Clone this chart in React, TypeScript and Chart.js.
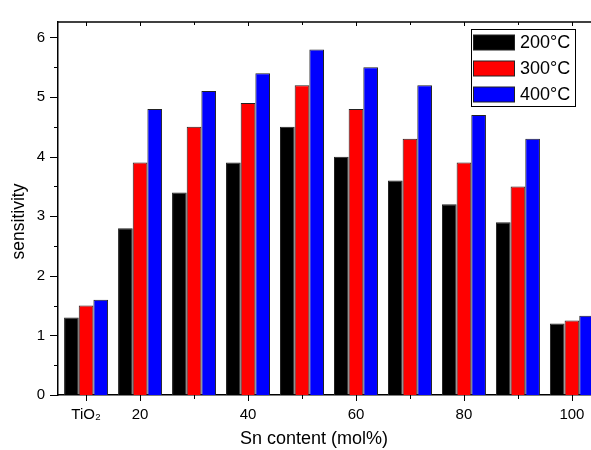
import React, { useEffect, useRef } from 'react';
import { Chart, registerables } from 'chart.js';

Chart.register(...registerables);

// ---- data ----
const snContent = [10, 20, 30, 40, 50, 60, 70, 80, 90, 100];
const xTickLabels = ['TiO₂', '20', '', '40', '', '60', '', '80', '', '100'];
const sens200 = [1.3, 2.8, 3.4, 3.9, 4.5, 4.0, 3.6, 3.2, 2.9, 1.2];
const sens300 = [1.5, 3.9, 4.5, 4.9, 5.2, 4.8, 4.3, 3.9, 3.5, 1.25];
const sens400 = [1.6, 4.8, 5.1, 5.4, 5.8, 5.5, 5.2, 4.7, 4.3, 1.33];
const seriesLabels = ['200°C', '300°C', '400°C'];
const seriesColors = ['#000000', '#ff0000', '#0000ff'];
const yTickValues = [0, 0.5, 1, 1.5, 2, 2.5, 3, 3.5, 4, 4.5, 5, 5.5, 6];
const xTitle = 'Sn content (mol%)';
const yTitle = 'sensitivity';

const FONT = "'Liberation Sans', Arial, Helvetica, sans-serif";

const decorPlugin = {
  id: 'decor',
  afterDraw(chart: any) {
    const { ctx, chartArea } = chart;
    const xs = chart.scales.x;
    const ys = chart.scales.y;
    ctx.save();
    ctx.strokeStyle = '#000';
    ctx.fillStyle = '#000';
    // top frame line
    ctx.lineWidth = 1.5;
    ctx.beginPath();
    ctx.moveTo(chartArea.left, chartArea.top);
    ctx.lineTo(chartArea.right + 5, chartArea.top);
    ctx.stroke();
    ctx.lineWidth = 1;
    // x ticks (bottom outward, top inward)
    snContent.forEach((v, i) => {
      const px = Math.round(xs.getPixelForValue(v)) + 0.5;
      const major = xTickLabels[i] !== '';
      const len = major ? 6 : 4;
      ctx.beginPath();
      ctx.moveTo(px, chartArea.bottom);
      ctx.lineTo(px, chartArea.bottom + len);
      ctx.moveTo(px, chartArea.top);
      ctx.lineTo(px, chartArea.top + (major ? 4 : 3));
      ctx.stroke();
    });
    // y ticks (left outward)
    yTickValues.forEach((v) => {
      const py = Math.round(ys.getPixelForValue(v)) + 0.5;
      const major = Number.isInteger(v);
      const len = major ? 8 : 4;
      ctx.beginPath();
      ctx.moveTo(chartArea.left, py);
      ctx.lineTo(chartArea.left - len, py);
      ctx.stroke();
    });
    // axis titles
    ctx.font = `18px ${FONT}`;
    ctx.textAlign = 'center';
    ctx.textBaseline = 'middle';
    ctx.fillText(xTitle, (chartArea.left + chartArea.right) / 2 - 15, chartArea.bottom + 44);
    ctx.save();
    ctx.translate(19, (chartArea.top + chartArea.bottom) / 2 + 13);
    ctx.rotate(-Math.PI / 2);
    ctx.font = `17.5px ${FONT}`;
    ctx.fillText(yTitle, 0, 0);
    ctx.restore();
    // legend
    const boxRight = chartArea.right - 25;
    const boxW = 104;
    const boxL = boxRight - boxW;
    const boxT = chartArea.top + 6.5;
    const boxH = 77;
    ctx.fillStyle = '#fff';
    ctx.fillRect(boxL, boxT, boxW, boxH);
    ctx.strokeStyle = '#000';
    ctx.lineWidth = 1;
    ctx.strokeRect(Math.round(boxL) + 0.5, Math.round(boxT) + 0.5, boxW, boxH);
    chart.data.datasets.forEach((ds: any, i: number) => {
      const cy = boxT + 14 + i * 26;
      ctx.fillStyle = ds.backgroundColor;
      ctx.fillRect(boxL + 2.5, cy - 7.5, 41, 15);
      ctx.strokeStyle = '#222';
      ctx.strokeRect(boxL + 2.5, cy - 7.5, 41, 15);
      ctx.fillStyle = '#000';
      ctx.font = `18px ${FONT}`;
      ctx.textAlign = 'left';
      ctx.textBaseline = 'middle';
      ctx.fillText(ds.label, boxL + 49, cy + 1);
    });
    ctx.restore();
  },
};

export default function App() {
  const canvasRef = useRef<HTMLCanvasElement | null>(null);

  useEffect(() => {
    const canvas = canvasRef.current;
    if (!canvas) return;
    const seriesData = [sens200, sens300, sens400];
    const chart = new Chart(canvas, {
      type: 'bar',
      data: {
        datasets: seriesData.map((vals, i) => ({
          label: seriesLabels[i],
          data: snContent.map((x, j) => ({ x, y: vals[j] })),
          backgroundColor: seriesColors[i],
          borderColor: '#222',
          borderWidth: 1,
          categoryPercentage: 0.815,
          barPercentage: 1.0,
        })),
      },
      options: {
        animation: false,
        responsive: false,
        devicePixelRatio: 1,
        layout: { padding: { top: 15, right: 12, left: 0, bottom: 0 } },
        plugins: { legend: { display: false }, tooltip: { enabled: false } },
        scales: {
          x: {
            type: 'linear',
            min: 4.8,
            max: 105.2,
            offset: false,
            grid: { display: false, drawTicks: false, offset: false },
            border: { display: true, color: '#000', width: 1.5 },
            afterBuildTicks: (scale: any) => {
              scale.ticks = snContent.map((v) => ({ value: v }));
            },
            afterFit: (scale: any) => {
              scale.height = 55;
            },
            ticks: {
              autoSkip: false,
              maxRotation: 0,
              padding: 11,
              color: '#000',
              font: { family: FONT, size: 15 },
              callback: (value: any) => {
                const idx = snContent.indexOf(Number(value));
                return idx >= 0 ? xTickLabels[idx] : '';
              },
            },
          },
          y: {
            type: 'linear',
            min: 0,
            max: 6.26,
            grid: { display: false, drawTicks: false },
            border: { display: true, color: '#000', width: 1.5 },
            afterBuildTicks: (scale: any) => {
              scale.ticks = yTickValues.map((v) => ({ value: v }));
            },
            afterFit: (scale: any) => {
              scale.width = 58;
            },
            ticks: {
              autoSkip: false,
              padding: 13,
              color: '#000',
              font: { family: FONT, size: 15 },
              callback: (value: any) => (Number.isInteger(Number(value)) ? String(value) : ''),
            },
          },
        },
      },
      plugins: [decorPlugin],
    } as any);
    return () => chart.destroy();
  }, []);

  return (
    <div
      style={{
        position: 'fixed',
        left: 0,
        top: 0,
        width: 591,
        height: 450,
        overflow: 'hidden',
        background: '#fff',
      }}
    >
      <canvas ref={canvasRef} width={612} height={450} style={{ width: 612, height: 450 }} />
    </div>
  );
}
